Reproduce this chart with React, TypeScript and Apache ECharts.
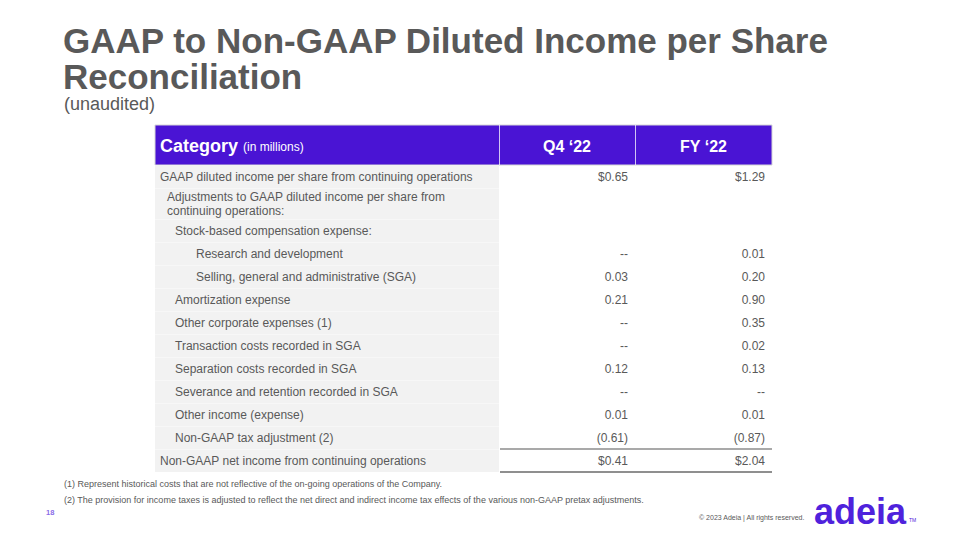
import React, { useEffect, useRef } from "react";
import * as echarts from "echarts";

const titleLines = ["GAAP to Non-GAAP Diluted Income per Share", "Reconciliation"];
const subtitle = "(unaudited)";
const headerLabels = ["Category", "(in millions)", "Q4 \u201822", "FY \u201822"];
const categories = [
  "GAAP diluted income per share from continuing operations",
  "Adjustments to GAAP diluted income per share from\ncontinuing operations:",
  "Stock-based compensation expense:",
  "Research and development",
  "Selling, general and administrative (SGA)",
  "Amortization expense",
  "Other corporate expenses (1)",
  "Transaction costs recorded in SGA",
  "Separation costs recorded in SGA",
  "Severance and retention recorded in SGA",
  "Other income (expense)",
  "Non-GAAP tax adjustment (2)",
  "Non-GAAP net income from continuing operations",
];
const indentLevels = [0, 1, 2, 3, 3, 2, 2, 2, 2, 2, 2, 2, 0];
const q4Values = ["$0.65", "", "", "--", "0.03", "0.21", "--", "--", "0.12", "--", "0.01", "(0.61)", "$0.41"];
const fyValues = ["$1.29", "", "", "0.01", "0.20", "0.90", "0.35", "0.02", "0.13", "--", "0.01", "(0.87)", "$2.04"];
const footnotes = [
  "(1) Represent historical costs that are not reflective of the on-going operations of the Company.",
  "(2) The provision for income taxes is adjusted to reflect the net direct and indirect income tax effects of the various non-GAAP pretax adjustments.",
];
const pageNumber = "18";
const copyright = "\u00a9 2023 Adeia | All rights reserved.";
const logoText = "adeia";

const FONT = "'Liberation Sans', Arial, Helvetica, sans-serif";
const GREY = "#595959";
const PURPLE = "#4a14d4";

function txt(x: number, y: number, text: string, font: string, fill: string, align = "left", extra: any = {}) {
  return {
    type: "text",
    x,
    y,
    silent: true,
    style: {
      text,
      font,
      fill,
      align,
      textAlign: align,
      verticalAlign: "middle",
      textVerticalAlign: "middle",
      ...extra,
    },
  };
}

export default function App() {
  const ref = useRef<HTMLDivElement>(null);
  useEffect(() => {
    if (!ref.current) return;
    const chart = echarts.init(ref.current, null, { renderer: "svg" });

    const left = 155;
    const colQ = 499;
    const colF = 635;
    const right = 772;
    const headerTop = 125;
    const headerH = 40;
    const bodyTop = headerTop + headerH;
    const indentX = [160, 167, 175, 196];

    const elements: any[] = [];
    // Titles
    titleLines.forEach((t, i) => {
      elements.push(txt(63, 40 + i * 36.5, t, `bold 35px ${FONT}`, GREY));
    });
    elements.push(txt(64, 104, subtitle, `18px ${FONT}`, GREY));

    // Header
    elements.push({
      type: "rect",
      shape: { x: left, y: headerTop, width: right - left, height: headerH },
      style: { fill: PURPLE, stroke: "#d6d6d6", lineWidth: 1 },
    });
    [colQ + 0.5, colF + 0.5].forEach((x) => {
      elements.push({
        type: "line",
        shape: { x1: x, y1: headerTop, x2: x, y2: headerTop + headerH },
        style: { stroke: "rgba(255,255,255,0.75)", lineWidth: 1 },
      });
    });
    elements.push(txt(160, 146, headerLabels[0], `bold 18px ${FONT}`, "#ffffff"));
    elements.push(txt(243, 147, headerLabels[1], `12px ${FONT}`, "#ffffff"));
    elements.push(txt((colQ + colF) / 2, 146, headerLabels[2], `bold 16px ${FONT}`, "#ffffff", "center"));
    elements.push(txt((colF + right) / 2, 146, headerLabels[3], `bold 16px ${FONT}`, "#ffffff", "center"));

    // Body rows
    const heights = categories.map((c) => 23 + (c.split("\n").length - 1) * 8);
    const total = heights.reduce((a, b) => a + b, 0);
    elements.push({
      type: "rect",
      shape: { x: left, y: bodyTop, width: colQ - left, height: total },
      style: { fill: "#f2f2f2" },
    });
    let y = bodyTop;
    categories.forEach((c, i) => {
      const h = heights[i];
      const cy = y + h / 2;
      if (i > 0) {
        elements.push({
          type: "line",
          shape: { x1: left, y1: y + 0.5, x2: colQ, y2: y + 0.5 },
          style: { stroke: "#f7f7f7", lineWidth: 1 },
        });
      }
      elements.push(txt(indentX[indentLevels[i]], cy + 0.5, c, `12px ${FONT}`, GREY, "left", { lineHeight: 14 }));
      if (q4Values[i]) elements.push(txt(628, cy + 0.5, q4Values[i], `12px ${FONT}`, GREY, "right"));
      if (fyValues[i]) elements.push(txt(765, cy + 0.5, fyValues[i], `12px ${FONT}`, GREY, "right"));
      if (i === categories.length - 1) {
        elements.push({
          type: "line",
          shape: { x1: colQ + 1, y1: y, x2: right, y2: y },
          style: { stroke: "#8c8c8c", lineWidth: 1.5 },
        });
        elements.push({
          type: "line",
          shape: { x1: colQ + 1, y1: y + h, x2: right, y2: y + h },
          style: { stroke: "#6a6a6a", lineWidth: 1.5 },
        });
      }
      y += h;
    });

    // Footnotes
    footnotes.forEach((f, i) => {
      elements.push(txt(64, 484 + i * 16, f, `9px ${FONT}`, GREY));
    });
    elements.push(txt(46, 512, pageNumber, `bold 7.5px ${FONT}`, "#8a6ce8"));
    elements.push(txt(699, 517, copyright, `7px ${FONT}`, GREY));
    elements.push(txt(814, 511, logoText, `bold 36px ${FONT}`, "#4f22dc"));
    elements.push(txt(909, 520, "TM", `5px ${FONT}`, "#4f22dc"));

    chart.setOption({
      animation: false,
      backgroundColor: "#ffffff",
      graphic: { elements },
    });
    return () => chart.dispose();
  }, []);
  return (
    <div
      ref={ref}
      style={{ position: "absolute", left: 0, top: 0, width: 960, height: 540, background: "#fff" }}
    />
  );
}
